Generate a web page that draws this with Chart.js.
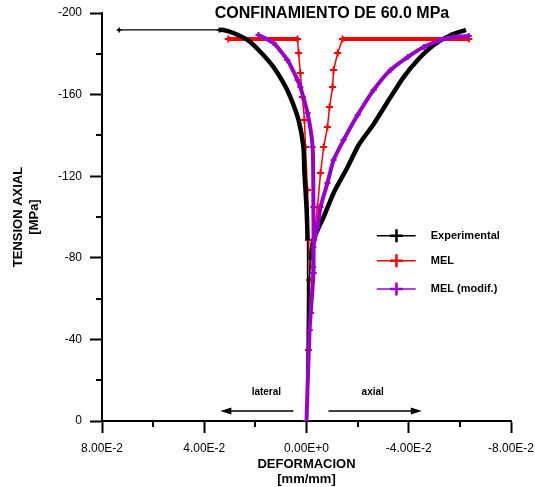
<!DOCTYPE html>
<html>
<head>
<meta charset="utf-8">
<script src="https://cdn.jsdelivr.net/npm/chart.js@4.4.1/dist/chart.umd.min.js"></script>
<style>
  html, body { margin: 0; padding: 0; background: #fff; }
</style>
</head>
<body>
<canvas id="chart" width="535" height="487"></canvas>
<script>
// Experimental curve (lateral branch -> origin -> axial branch)
const expX = [0.0733, 0.0341, 0.0325, 0.0286, 0.0231, 0.0180, 0.0129, 0.0090, 0.0063, 0.0031, 0.0012, 0.0008, 0.0000, -0.0004, -0.0004, 0.0000,
  -0.0008, -0.0016, -0.0027, -0.0043, -0.0067, -0.0106, -0.0161, -0.0204, -0.0263, -0.0329, -0.0380, -0.0435, -0.0498, -0.0565, -0.0624];
const expY = [-191.7, -191.7, -191.7, -190.2, -186.8, -180.9, -173.5, -165.7, -158.8, -147.5, -134.3, -121.6, -104.9, -88.7, -59.3, 0,
  -59.3, -78.9, -88.7, -93.6, -100.0, -111.8, -124.5, -135.3, -145.6, -158.8, -168.6, -177.0, -184.3, -189.2, -191.7];

// MEL
const melX = [0.0306, 0.0035, 0.0031, 0.0024, 0.0016, 0.0008, 0.0004, -0.0004, -0.0008, -0.0012, -0.0008, 0.0000,
  -0.0008, -0.0016, -0.0024, -0.0027, -0.0043, -0.0055, -0.0067, -0.0082, -0.0090, -0.0102, -0.0106, -0.0122, -0.0141, -0.0635];
const melY = [-187.3, -187.3, -180.4, -170.6, -158.8, -147.5, -134.3, -113.2, -88.7, -69.1, -34.8, 0,
  -34.8, -52.9, -75.5, -88.7, -104.9, -121.6, -134.3, -144.1, -153.9, -163.7, -172.1, -180.4, -187.3, -187.3];

// MEL (modif.)
const modX = [0.0188, 0.0129, 0.0075, 0.0035, 0.0024, -0.0004, -0.0024, -0.0027, -0.0027, -0.0012, 0.0000,
  -0.0012, -0.0027, -0.0027, -0.0043, -0.0055, -0.0082, -0.0106, -0.0145, -0.0200, -0.0263, -0.0329, -0.0396, -0.0459, -0.0525, -0.0576, -0.0635];
const modY = [-189.2, -185.3, -177.0, -167.2, -163.7, -151.0, -134.3, -104.9, -72.5, -44.6, 0,
  -44.6, -72.5, -85.3, -95.1, -104.9, -116.7, -127.9, -137.7, -150.0, -162.3, -172.1, -178.4, -183.3, -186.8, -188.2, -188.7];

const seriesNames = ['Experimental', 'MEL', 'MEL (modif.)'];
const seriesColors = ['#000000', '#ff0000', '#9900cc'];

const xTickVals = [0.08, 0.04, 0, -0.04, -0.08];
const xMinorVals = [0.06, 0.02, -0.02, -0.06];
const yTickVals = [-200, -160, -120, -80, -40, 0];
const yMinorVals = [-180, -140, -100, -60, -20];

const FONT = '"Liberation Sans", Arial, Helvetica, sans-serif';
Chart.defaults.font.family = FONT;
Chart.defaults.color = '#000';

const zip = (xs, ys) => xs.map((x, i) => ({ x, y: ys[i] }));

function fmtStrain(v) {
  const n = Math.round(v * 100);
  if (n === 0) return '0.00E+0';
  return (n < 0 ? '-' : '') + Math.abs(n).toFixed(2) + 'E-2';
}

function drawCross(ctx, cx, cy, r) {
  ctx.beginPath();
  ctx.moveTo(cx - r, cy); ctx.lineTo(cx + r, cy);
  ctx.moveTo(cx, cy - r); ctx.lineTo(cx, cy + r);
  ctx.stroke();
}

function drawArrow(ctx, x0, x1, yy) {
  const dir = Math.sign(x1 - x0);
  ctx.lineWidth = 1.5;
  ctx.beginPath();
  ctx.moveTo(x0, yy); ctx.lineTo(x1 - dir * 8, yy);
  ctx.stroke();
  ctx.beginPath();
  ctx.moveTo(x1, yy);
  ctx.lineTo(x1 - dir * 11, yy - 3.5);
  ctx.lineTo(x1 - dir * 11, yy + 3.5);
  ctx.closePath();
  ctx.fill();
}

const decorPlugin = {
  id: 'decor',
  afterDraw(chart) {
    const { ctx, chartArea, scales: { x, y } } = chart;
    ctx.save();
    ctx.strokeStyle = '#000';
    ctx.fillStyle = '#000';

    // minor ticks
    ctx.lineWidth = 2;
    xMinorVals.forEach(v => {
      const px = Math.round(x.getPixelForValue(v));
      ctx.beginPath();
      ctx.moveTo(px, chartArea.bottom);
      ctx.lineTo(px, chartArea.bottom + 6);
      ctx.stroke();
    });
    yMinorVals.forEach(v => {
      const py = Math.round(y.getPixelForValue(v));
      ctx.beginPath();
      ctx.moveTo(chartArea.left - 6, py);
      ctx.lineTo(chartArea.left, py);
      ctx.stroke();
    });

    // title
    ctx.font = 'bold 16px ' + FONT;
    ctx.textAlign = 'center';
    ctx.textBaseline = 'middle';
    ctx.fillText('CONFINAMIENTO DE 60.0 MPa', 332, 13.5);

    // lateral / axial
    ctx.font = 'bold 10px ' + FONT;
    ctx.fillText('lateral', x.getPixelForValue(0.0157), y.getPixelForValue(-14.2));
    ctx.fillText('axial', x.getPixelForValue(-0.0259), y.getPixelForValue(-14.2));
    const ay = y.getPixelForValue(-4.9);
    drawArrow(ctx, x.getPixelForValue(0.0051), x.getPixelForValue(0.0337), ay);
    drawArrow(ctx, x.getPixelForValue(-0.0086), x.getPixelForValue(-0.0451), ay);

    // legend
    const legY = [-90.8, -78.6, -64.7];
    const lx0 = x.getPixelForValue(-0.0275), lx1 = x.getPixelForValue(-0.0427);
    const lcx = x.getPixelForValue(-0.0352), ltx = x.getPixelForValue(-0.0486);
    ctx.font = 'bold 11px ' + FONT;
    ctx.textAlign = 'left';
    seriesNames.forEach((name, i) => {
      const py = y.getPixelForValue(legY[i]);
      ctx.strokeStyle = seriesColors[i];
      ctx.lineWidth = 1.5;
      ctx.beginPath();
      ctx.moveTo(lx0, py); ctx.lineTo(lx1, py);
      ctx.stroke();
      ctx.lineWidth = 2.5;
      drawCross(ctx, lcx, py, 6.5);
      ctx.fillStyle = '#000';
      ctx.fillText(name, ltx, py);
    });
    ctx.restore();
  }
};

// thin black near the origin, where the model curves sit on top of it
const expSegWidth = ctx => {
  if (ctx.p0DataIndex === 0) return 1.2;
  if (ctx.p0.parsed.y > -62 || ctx.p1.parsed.y > -62) return 1.5;
  return 4.5;
};

new Chart(document.getElementById('chart'), {
  type: 'scatter',
  data: {
    datasets: [
      {
        label: seriesNames[2],
        data: zip(modX, modY),
        showLine: true,
        tension: 0.2,
        borderColor: seriesColors[2],
        backgroundColor: seriesColors[2],
        borderWidth: 4,
        pointStyle: 'cross',
        pointRadius: 3,
        pointBorderWidth: 2,
        order: 0
      },
      {
        label: seriesNames[0],
        data: zip(expX, expY),
        showLine: true,
        tension: 0.2,
        borderColor: seriesColors[0],
        backgroundColor: seriesColors[0],
        borderWidth: 4.5,
        segment: { borderWidth: expSegWidth },
        pointStyle: 'cross',
        pointRadius: ctx => ctx.dataIndex < 2 ? 2.5 : 0,
        pointBorderWidth: 1.5,
        order: 1
      },
      {
        label: seriesNames[1],
        data: zip(melX, melY),
        showLine: true,
        borderColor: seriesColors[1],
        backgroundColor: seriesColors[1],
        borderWidth: 1.5,
        segment: { borderWidth: ctx => ctx.p0.parsed.y === ctx.p1.parsed.y ? 4 : 1.5 },
        pointStyle: 'cross',
        pointRadius: 3.5,
        pointBorderWidth: 2,
        order: 2
      }
    ]
  },
  options: {
    responsive: false,
    animation: false,
    layout: { padding: { top: 13, right: 24, left: 0, bottom: 0 } },
    plugins: {
      legend: { display: false },
      tooltip: { enabled: false },
      title: { display: false }
    },
    scales: {
      x: {
        type: 'linear',
        min: -0.08,
        max: 0.08,
        reverse: true,
        afterFit: s => { s.height = 66; s.paddingLeft = 0; s.paddingRight = 0; },
        afterBuildTicks: s => { s.ticks = xTickVals.map(v => ({ value: v })); },
        border: { display: true, color: '#000', width: 2 },
        grid: { drawOnChartArea: false, drawTicks: true, tickLength: 12, tickWidth: 2, tickColor: '#000' },
        ticks: { padding: 8, maxRotation: 0, font: { size: 12 }, callback: v => fmtStrain(v) },
        title: {
          display: true,
          text: ['DEFORMACION', '[mm/mm]'],
          font: { size: 13, weight: 'bold', lineHeight: 1.15 },
          padding: { top: 0, bottom: 0 }
        }
      },
      y: {
        type: 'linear',
        min: -200,
        max: 0,
        reverse: true,
        afterFit: s => { s.width = 102; s.paddingTop = 0; s.paddingBottom = 0; },
        afterBuildTicks: s => { s.ticks = yTickVals.map(v => ({ value: v })); },
        border: { display: true, color: '#000', width: 2 },
        grid: { drawOnChartArea: false, drawTicks: true, tickLength: 12, tickWidth: 2, tickColor: '#000' },
        ticks: { padding: 8, font: { size: 12 }, callback: v => String(v) },
        title: {
          display: true,
          text: ['TENSION AXIAL', '[MPa]'],
          font: { size: 13, weight: 'bold', lineHeight: 1.2 },
          padding: { top: 11, bottom: 0 }
        }
      }
    }
  },
  plugins: [decorPlugin]
});
</script>
</body>
</html>
